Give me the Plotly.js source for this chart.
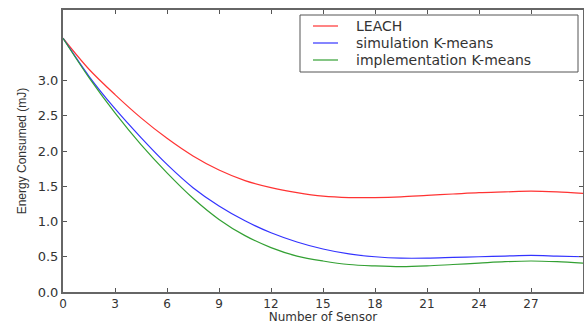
<!DOCTYPE html>
<html>
<head>
<meta charset="utf-8">
<script src="https://cdn.plot.ly/plotly-3.0.1.min.js"></script>
<style>html,body{margin:0;padding:0;background:#fff;}#chart{width:584px;height:324px;}</style>
</head>
<body>
<div id="chart"></div>
<script>
// Data
const sensors = [0, 1.5, 3, 4.5, 6, 7.5, 9, 10.5, 12, 13.5, 15, 16.5, 18, 19.5, 21, 22.5, 24, 25.5, 27, 28.5, 30];
const leach = [3.60, 3.16, 2.80, 2.47, 2.18, 1.93, 1.73, 1.58, 1.48, 1.41, 1.36, 1.34, 1.34, 1.35, 1.37, 1.39, 1.41, 1.42, 1.43, 1.42, 1.40];
const simKmeans = [3.60, 3.06, 2.60, 2.19, 1.81, 1.48, 1.22, 1.01, 0.84, 0.71, 0.61, 0.54, 0.50, 0.48, 0.48, 0.49, 0.50, 0.51, 0.52, 0.51, 0.50];
const implKmeans = [3.60, 3.04, 2.54, 2.09, 1.69, 1.33, 1.03, 0.80, 0.63, 0.51, 0.44, 0.39, 0.37, 0.36, 0.37, 0.39, 0.41, 0.43, 0.44, 0.43, 0.41];
const seriesNames = ["LEACH", "simulation K-means", "implementation K-means"];
const seriesColors = ["#ff3333", "#3333ff", "#33a033"];
const xTicks = [0, 3, 6, 9, 12, 15, 18, 21, 24, 27];
const yTicks = [0.0, 0.5, 1.0, 1.5, 2.0, 2.5, 3.0];

const W = 584, H = 324;
const M = {l: 63, r: 1, t: 10, b: 32};
const pw = W - M.l - M.r, ph = H - M.t - M.b;
const px2x = px => (px - M.l) / pw;
const py2y = py => (H - M.b - py) / ph;

const ys = [leach, simKmeans, implKmeans];
const traces = ys.map((y, i) => ({
  x: sensors, y: y, type: 'scatter', mode: 'lines', name: seriesNames[i],
  line: {color: seriesColors[i], width: 1.2, shape: 'spline', smoothing: 0.9},
  showlegend: false
}));

// Hand-placed legend (matplotlib style box)
const shapes = [{
  type: 'rect', xref: 'paper', yref: 'paper',
  x0: px2x(300), x1: px2x(578), y0: py2y(72), y1: py2y(15),
  line: {color: '#555', width: 1}, fillcolor: '#fff', layer: 'above'
}];
const annotations = [];
const rowY = [26, 43, 60];
seriesNames.forEach((n, i) => {
  shapes.push({
    type: 'line', xref: 'paper', yref: 'paper',
    x0: px2x(313), x1: px2x(338), y0: py2y(rowY[i]), y1: py2y(rowY[i]),
    line: {color: seriesColors[i], width: 1.2}, layer: 'above'
  });
  annotations.push({
    xref: 'paper', yref: 'paper', x: px2x(354), y: py2y(rowY[i]),
    xanchor: 'left', yanchor: 'middle', showarrow: false, text: n,
    font: {family: 'DejaVu Sans', size: 14, color: '#333'}
  });
});

const tickFont = {family: 'DejaVu Sans', size: 13, color: '#333'};
const layout = {
  width: W, height: H,
  margin: M,
  paper_bgcolor: '#fff', plot_bgcolor: '#fff',
  showlegend: false,
  shapes: shapes, annotations: annotations,
  xaxis: {
    range: [0, 30], tickvals: xTicks, ticks: 'inside', ticklen: 4, tickcolor: '#555',
    showline: true, linecolor: '#666', linewidth: 2, mirror: 'ticks',
    showgrid: false, zeroline: false, tickfont: {family: 'DejaVu Sans', size: 12, color: '#333'},
    title: {text: 'Number of Sensor', font: {family: 'DejaVu Sans', size: 12, color: '#333'}, standoff: 2}
  },
  yaxis: {
    range: [0, 4.0], tickvals: yTicks, tickformat: '.1f', ticks: 'inside', ticklen: 4, tickcolor: '#555',
    showline: true, linecolor: '#666', linewidth: 2, mirror: 'ticks',
    showgrid: false, zeroline: false, tickfont: tickFont,
    title: {text: 'Energy Consumed (mJ)', font: {family: 'Liberation Sans Narrow, Liberation Sans', size: 12, color: '#333'}, standoff: 9}
  }
};
Plotly.newPlot('chart', traces, layout, {displayModeBar: false, staticPlot: true});
</script>
</body>
</html>
